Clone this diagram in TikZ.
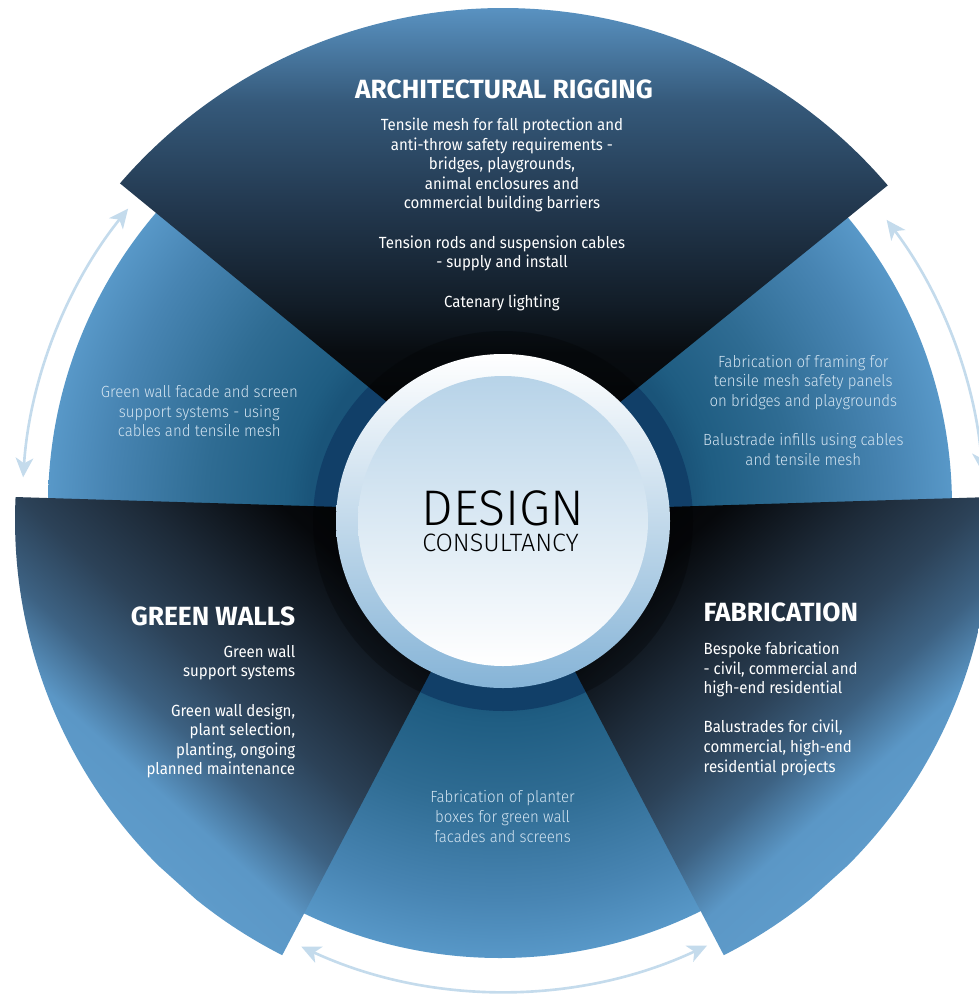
\documentclass[tikz,border=0pt]{standalone}
\usepackage{fontspec}
\setmainfont{Fira Sans}
\newfontfamily\bodyfont{Fira Sans}[FakeStretch=0.93]
\newfontfamily\thinfont{Fira Sans Light}[FakeStretch=0.93]
\newfontfamily\hubfont{Fira Sans Light}
\usetikzlibrary{arrows.meta}

\definecolor{ringblue}{HTML}{17558B}
\definecolor{paletext}{HTML}{D3E4F1}
\definecolor{arrowblue}{HTML}{C4DBEC}
\definecolor{lensblue}{HTML}{B7D3E8}
\definecolor{lensmid}{HTML}{E4EEF7}
\definecolor{rimblue}{HTML}{86B4D7}
\definecolor{sec190}{HTML}{1A5479}
\definecolor{sec214}{HTML}{1F5D82}
\definecolor{sec294}{HTML}{2F6C93}
\definecolor{sec394}{HTML}{4885B3}
\definecolor{sec452}{HTML}{5898C8}
\definecolor{top150}{HTML}{080C10}
\definecolor{top200}{HTML}{121D28}
\definecolor{top300}{HTML}{233950}
\definecolor{top400}{HTML}{35597A}
\definecolor{top500}{HTML}{5B95C5}
\definecolor{side150}{HTML}{06080B}
\definecolor{side245}{HTML}{1D2A38}
\definecolor{side320}{HTML}{2C4258}
\definecolor{side385}{HTML}{3D6283}
\definecolor{side445}{HTML}{5B97C6}
\definecolor{side500}{HTML}{5E9BCA}

\pgfdeclareradialshading{sectorshade}{\pgfpointorigin}{color(0bp)=(sec190); color(10.5bp)=(sec190); color(11.8bp)=(sec214); color(16.3bp)=(sec294); color(21.8bp)=(sec394); color(25bp)=(sec452); color(50bp)=(sec452)}
\pgfdeclareverticalshading{topshade}{100bp}{color(0bp)=(black); color(25bp)=(black); color(40bp)=(top150); color(45bp)=(top200); color(55bp)=(top300); color(65bp)=(top400); color(75bp)=(top500); color(100bp)=(top500)}
\pgfdeclareverticalshading{sideshade}{100bp}{color(0bp)=(black); color(25bp)=(black); color(40bp)=(side150); color(49.5bp)=(side245); color(57bp)=(side320); color(63.5bp)=(side385); color(69.5bp)=(side445); color(75bp)=(side500); color(100bp)=(side500)}

\tikzstyle{titletext} = [font=\bfseries\fontsize{15}{18}\selectfont, text=white, inner sep=0pt]
\tikzstyle{bodytext} = [font=\bodyfont\fontsize{9.2}{11.17}\selectfont, text=white, inner sep=0pt]
\tikzstyle{notetext} = [font=\thinfont\fontsize{9.2}{11.17}\selectfont, text=paletext, inner sep=0pt, align=center, anchor=base]
\tikzstyle{cyclearrow} = [draw=arrowblue, line width=1.5pt, <->, >={Stealth[length=11pt, width=10pt, inset=3pt]}]

\begin{document}
\begin{tikzpicture}[x=0.02cm, y=-0.02cm]
\useasboundingbox (0,0) rectangle (978,994);
\shade[shading=sectorshade] (500,506) circle[radius=452];
\fill[ringblue] (503,521) circle[radius=190];
\begin{scope}
\clip (503,497) -- ([shift={(503,514)}]-139.2:506) arc[start angle=-139.2, end angle=-40.5, radius=506] -- cycle;
\shade[shading=topshade, transform canvas={shift={(503,503)}}] (-600,0) rectangle (600,-500);
\end{scope}
\begin{scope}
\clip (503,512) -- ([shift={(503,520)}]182.7:488) arc[start angle=182.7, end angle=116.9, radius=488] -- (503,534) -- cycle;
\shade[shading=sideshade, transform canvas={shift={(503,503)}, rotate=138}] (-600,0) rectangle (600,-500);
\end{scope}
\begin{scope}
\clip (503,512) -- ([shift={(503,520)}]-2.7:488) arc[start angle=-2.7, end angle=63.1, radius=488] -- (503,534) -- cycle;
\shade[shading=sideshade, transform canvas={shift={(503,503)}, rotate=-138}] (-600,0) rectangle (600,-500);
\end{scope}
\fill[black, opacity=0.25] (503,521) circle[radius=190];
\shade[top color=white, middle color=white, bottom color=rimblue] (503,521) circle[radius=167];
\shade[top color=lensblue, middle color=lensmid, bottom color=white] (503,521) circle[radius=145];

\coordinate (westlow) at ([shift={(503,510)}]-176.1:481);
\coordinate (eastlow) at ([shift={(503,510)}]-4.5:481);
\coordinate (southright) at ([shift={(503,510)}]64.9:481);
\draw[cyclearrow] (westlow) arc[start angle=-176.1, end angle=-141.2, radius=481];
\draw[cyclearrow] (eastlow) arc[start angle=-4.5, end angle=-37.1, radius=481];
\draw[cyclearrow] (southright) arc[start angle=64.9, end angle=114.8, radius=481];

\node[titletext, anchor=base] (rigtitle) at (504,98) {ARCHITECTURAL RIGGING};
\node[bodytext, align=center, anchor=base] (rigbody) at (502,307) {Tensile mesh for fall protection and\\anti-throw safety requirements -\\bridges, playgrounds,\\animal enclosures and\\commercial building barriers\\[11.17pt]Tension rods and suspension cables\\- supply and install\\[11.17pt]Catenary lighting};
\node[titletext, anchor=base east] (greentitle) at (295.5,625) {GREEN WALLS};
\node[bodytext, align=right, anchor=base east] (greenbody) at (295.5,774.9) {Green wall\\support systems\\[11.17pt]Green wall design,\\plant selection,\\planting, ongoing\\planned maintenance};
\node[titletext, anchor=base west] (fabtitle) at (703.3,621.7) {FABRICATION};
\node[bodytext, align=left, anchor=base west] (fabbody) at (703.3,772.2) {Bespoke fabrication\\- civil, commercial and\\high-end residential\\[11.17pt]Balustrades for civil,\\commercial, high-end\\residential projects};
\node[notetext] (wallnote) at (199.3,436.7) {Green wall facade and screen\\support systems - using\\cables and tensile mesh};
\node[notetext] (framenote) at (803.3,465.2) {Fabrication of framing for\\tensile mesh safety panels\\on bridges and playgrounds\\[11.17pt]Balustrade infills using cables\\and tensile mesh};
\node[notetext] (planternote) at (502.5,842.1) {Fabrication of planter\\boxes for green wall\\facades and screens};
\node[font=\hubfont\fontsize{28.5}{30}\selectfont, inner sep=0pt, anchor=base] (design) at (503,525.7) {DESIGN};
\node[font=\hubfont\fontsize{14.3}{15}\selectfont, inner sep=0pt, anchor=base] (consult) at (500.5,551) {CONSULTANCY};
\end{tikzpicture}
\end{document}
